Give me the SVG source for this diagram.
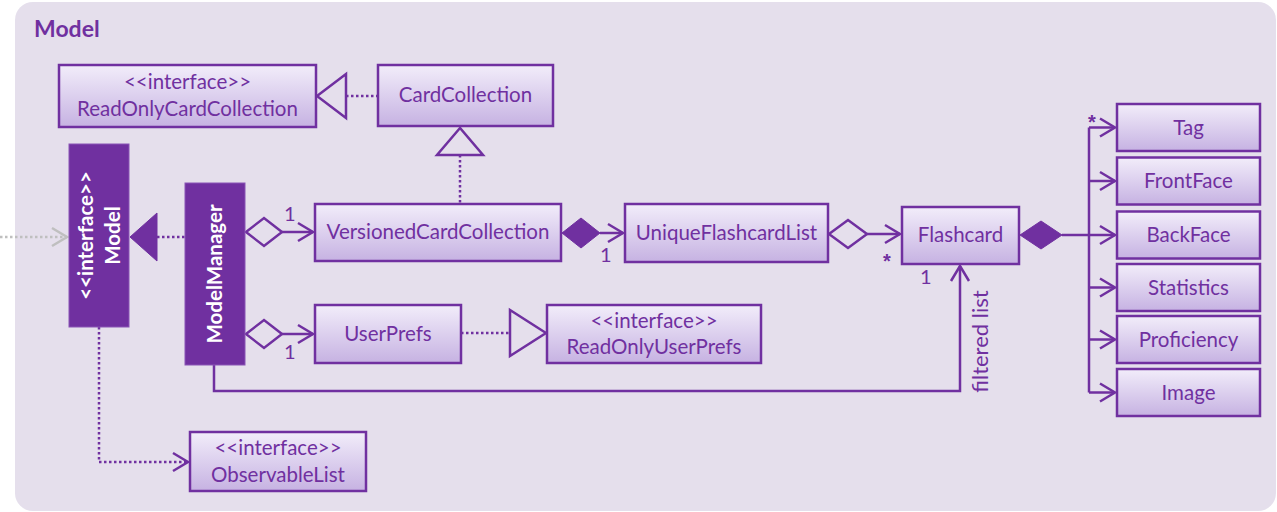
<svg xmlns="http://www.w3.org/2000/svg" width="1277" height="512" viewBox="0 0 1277 512">
<style>
.bg{fill:#E5DFEC;stroke:none}
.box{fill:url(#gb);stroke:#7030A0;stroke-width:2.5}
.dark{fill:#7030A0;stroke:#8A55B5;stroke-width:1}
.t{font-family:Lato,"Liberation Sans",sans-serif;font-size:20.5px;fill:#7030A0;text-anchor:middle}
.w{font-family:Lato,"Liberation Sans",sans-serif;font-size:20.5px;font-weight:bold;fill:#FFFFFF;text-anchor:middle}
.lbl{font-family:Lato,"Liberation Sans",sans-serif;font-size:20px;fill:#7030A0}
.star{font-family:"Liberation Sans",sans-serif;font-size:20px;font-weight:bold;fill:#7030A0;text-anchor:middle}
.ln{stroke:#7030A0;stroke-width:2.5;fill:none}
.dot{stroke-dasharray:2.5 2.5}
.hollow{fill:#E5DFEC;stroke:#7030A0;stroke-width:2.5;stroke-linejoin:miter}
.solid{fill:#7030A0;stroke:#7030A0;stroke-width:1}
</style>
<defs>
<linearGradient id="gb" x1="0" y1="0" x2="0" y2="1">
<stop offset="0" stop-color="#F2EDFA"/>
<stop offset="1" stop-color="#C6B2E2"/>
</linearGradient>
<marker id="open" markerUnits="userSpaceOnUse" markerWidth="22" markerHeight="24" viewBox="-18 -12 22 24" refX="0" refY="0" orient="auto" overflow="visible">
<path d="M-15,-9 L0,0 L-15,9" fill="none" stroke="#7030A0" stroke-width="2.5"/>
</marker>
<marker id="openGray" markerUnits="userSpaceOnUse" markerWidth="22" markerHeight="24" viewBox="-18 -12 22 24" refX="0" refY="0" orient="auto" overflow="visible">
<path d="M-15,-9 L0,0 L-15,9" fill="none" stroke="#BFBFBF" stroke-width="2.5"/>
</marker>
</defs>

<rect class="bg" x="15" y="2" width="1261" height="509" rx="18" ry="18"/>
<text x="34" y="37" style="font-family:Lato,'Liberation Sans',sans-serif;font-size:23px;font-weight:bold;fill:#7030A0">Model</text>

<g id="connectors">
  <line x1="0" y1="237" x2="67" y2="237" stroke="#BFBFBF" stroke-width="2.5" class="dot" marker-end="url(#openGray)"/>
  <line class="ln dot" x1="346" y1="96" x2="378" y2="96"/>
  <polygon class="hollow" points="317,96 346,74 346,118"/>
  <line class="ln dot" x1="460" y1="155" x2="460" y2="204"/>
  <polygon class="hollow" points="460,128 437,155 483,155"/>
  <line class="ln dot" x1="157" y1="237" x2="185" y2="237"/>
  <polygon class="solid" points="130,237 157,213 157,261"/>
  <polygon class="hollow" points="246,232 264,218 282,232 264,246"/>
  <line class="ln" x1="282" y1="232" x2="313" y2="232" marker-end="url(#open)"/>
  <text class="lbl" x="284" y="221">1</text>
  <polygon class="hollow" points="246,334 264,320 282,334 264,348"/>
  <line class="ln" x1="282" y1="334" x2="313" y2="334" marker-end="url(#open)"/>
  <text class="lbl" x="284" y="359">1</text>
  <line class="ln dot" x1="461" y1="333" x2="510" y2="333"/>
  <polygon class="hollow" points="546,333 510,310 510,356"/>
  <polygon class="solid" points="562,233 581,218 600,233 581,248"/>
  <line class="ln" x1="600" y1="233" x2="623" y2="233" marker-end="url(#open)"/>
  <text class="lbl" x="600" y="262">1</text>
  <polygon class="hollow" points="829,234 848,220 867,234 848,248"/>
  <line class="ln" x1="867" y1="234" x2="900" y2="234" marker-end="url(#open)"/>
  <text class="star" x="887" y="268">*</text>
  <polygon class="solid" points="1020,235 1041,221 1062,235 1041,249"/>
  <line class="ln" x1="1062" y1="235" x2="1089" y2="235"/>
  <line class="ln" x1="1089" y1="127.5" x2="1089" y2="392.5"/>
  <line class="ln" x1="1089" y1="127.5" x2="1115" y2="127.5" marker-end="url(#open)"/>
  <line class="ln" x1="1089" y1="181" x2="1115" y2="181" marker-end="url(#open)"/>
  <line class="ln" x1="1089" y1="235" x2="1115" y2="235" marker-end="url(#open)"/>
  <line class="ln" x1="1089" y1="287.5" x2="1115" y2="287.5" marker-end="url(#open)"/>
  <line class="ln" x1="1089" y1="339.5" x2="1115" y2="339.5" marker-end="url(#open)"/>
  <line class="ln" x1="1089" y1="392.5" x2="1115" y2="392.5" marker-end="url(#open)"/>
  <text class="star" x="1092" y="129">*</text>
  <path class="ln" d="M214,365 V391 H960 V266" marker-end="url(#open)"/>
  <text class="lbl" x="920" y="284">1</text>
  <text class="lbl" transform="translate(988,341.5) rotate(-90)" x="0" y="0" text-anchor="middle" style="font-size:22px">filtered list</text>
  <path class="ln dot" d="M99,327 V462 H188" marker-end="url(#open)"/>
</g>

<g id="node-readonlycardcollection">
  <rect class="box" x="59" y="65" width="257" height="62"/>
  <text class="t" x="187.5" y="89">&lt;&lt;interface&gt;&gt;</text>
  <text class="t" x="187.5" y="116">ReadOnlyCardCollection</text>
</g>
<g id="node-cardcollection">
  <rect class="box" x="378" y="65" width="175" height="61"/>
  <text class="t" x="465.5" y="102">CardCollection</text>
</g>
<g id="node-model">
  <rect class="dark" x="69" y="144" width="60" height="183"/>
  <text class="w" transform="translate(93,235.5) rotate(-90)">&lt;&lt;interface&gt;&gt;</text>
  <text class="w" transform="translate(120,235.5) rotate(-90)">Model</text>
</g>
<g id="node-modelmanager">
  <rect class="dark" x="185" y="183" width="60" height="182"/>
  <text class="w" transform="translate(222,274) rotate(-90)">ModelManager</text>
</g>
<g id="node-versionedcardcollection">
  <rect class="box" x="315" y="204" width="246" height="57"/>
  <text class="t" x="438" y="239">VersionedCardCollection</text>
</g>
<g id="node-uniqueflashcardlist">
  <rect class="box" x="625" y="204" width="203" height="58"/>
  <text class="t" x="726.5" y="240">UniqueFlashcardList</text>
</g>
<g id="node-flashcard">
  <rect class="box" x="902" y="207" width="117" height="57"/>
  <text class="t" x="960.5" y="242">Flashcard</text>
</g>
<g id="node-userprefs">
  <rect class="box" x="315" y="305" width="146" height="58"/>
  <text class="t" x="388" y="341">UserPrefs</text>
</g>
<g id="node-readonlyuserprefs">
  <rect class="box" x="547" y="305" width="214" height="58"/>
  <text class="t" x="654" y="328">&lt;&lt;interface&gt;&gt;</text>
  <text class="t" x="654" y="354">ReadOnlyUserPrefs</text>
</g>
<g id="node-observablelist">
  <rect class="box" x="190" y="432" width="176" height="59"/>
  <text class="t" x="278" y="455">&lt;&lt;interface&gt;&gt;</text>
  <text class="t" x="278" y="482">ObservableList</text>
</g>
<g id="node-tag">
  <rect class="box" x="1117" y="104" width="143" height="47"/>
  <text class="t" x="1188.5" y="134.5">Tag</text>
</g>
<g id="node-frontface">
  <rect class="box" x="1117" y="157.5" width="143" height="47"/>
  <text class="t" x="1188.5" y="188">FrontFace</text>
</g>
<g id="node-backface">
  <rect class="box" x="1117" y="211.5" width="143" height="47"/>
  <text class="t" x="1188.5" y="242">BackFace</text>
</g>
<g id="node-statistics">
  <rect class="box" x="1117" y="264" width="143" height="47"/>
  <text class="t" x="1188.5" y="294.5">Statistics</text>
</g>
<g id="node-proficiency">
  <rect class="box" x="1117" y="316" width="143" height="47"/>
  <text class="t" x="1188.5" y="346.5">Proficiency</text>
</g>
<g id="node-image">
  <rect class="box" x="1117" y="369" width="143" height="47"/>
  <text class="t" x="1188.5" y="399.5">Image</text>
</g>
</svg>
